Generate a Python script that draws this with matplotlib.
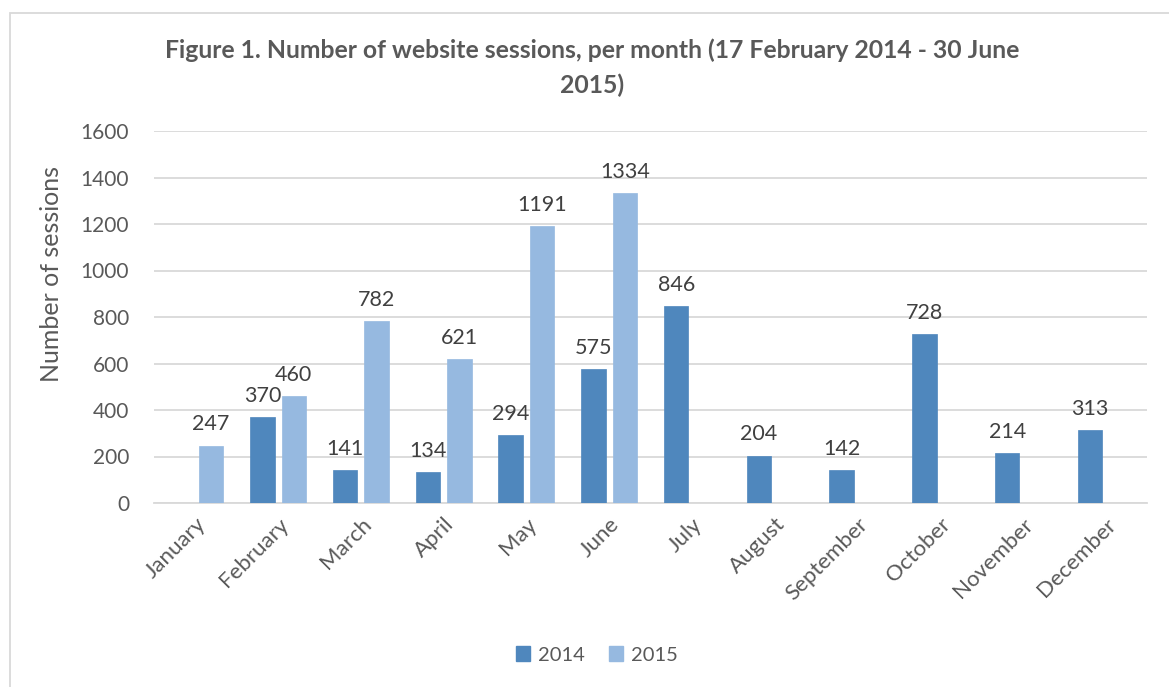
import matplotlib
matplotlib.use("Agg")
import matplotlib.pyplot as plt
import numpy as np
from matplotlib.patches import Rectangle, Patch

months = ["January", "February", "March", "April", "May", "June", "July",
          "August", "September", "October", "November", "December"]
sessions_2014 = [None, 370, 141, 134, 294, 575, 846, 204, 142, 728, 214, 313]
sessions_2015 = [247, 460, 782, 621, 1191, 1334, None, None, None, None, None, None]
series_labels = ["2014", "2015"]
yticks = [0, 200, 400, 600, 800, 1000, 1200, 1400, 1600]

title_line1 = "Figure 1. Number of website sessions, per month (17 February 2014 - 30 June"
title_line2 = "2015)"

c2014 = "#4F87BD"
c2015 = "#96B9E0"
txt = "#595959"
lab = "#404040"
FONT = "Lato"

plt.rcParams['font.family'] = [FONT, 'DejaVu Sans']

W, H = 1169, 687
fig = plt.figure(figsize=(W / 100, H / 100), dpi=100)
fig.patch.set_facecolor("white")

# chart-area border
fig.patches.append(Rectangle((10 / W, -0.01), 1.1, (H - 13) / H + 0.01,
                             transform=fig.transFigure, fill=False,
                             edgecolor="#D9D9D9", linewidth=1.3))

ax = fig.add_axes([154 / W, (H - 503) / H, (1147 - 154) / W, (503 - 131) / H])
x = np.arange(len(months))
bw = 0.296
off = 0.19

def draw(vals, dx, color):
    for xi, v in zip(x, vals):
        if v is None:
            continue
        ax.bar(xi + dx, v, width=bw, color=color, edgecolor=color, linewidth=0.5, zorder=3)
        ax.annotate(str(v), (xi + dx, v), xytext=(0, 8), textcoords="offset points",
                    ha="center", va="bottom", fontsize=15.5, color=lab)

draw(sessions_2014, -off, c2014)
draw(sessions_2015, off, c2015)

ax.set_xlim(-0.5, len(months) - 0.5)
ax.set_ylim(0, 1600)
ax.set_yticks(yticks)
ax.set_yticklabels([str(t) for t in yticks], fontsize=15, color=txt)
ax.yaxis.grid(True, color="#D9D9D9", linewidth=1.3, zorder=0)
ax.set_axisbelow(True)
for s in ["top", "right", "left"]:
    ax.spines[s].set_visible(False)
ax.spines["bottom"].set_color("#D9D9D9")
ax.spines["bottom"].set_linewidth(1.3)
ax.tick_params(axis="both", length=0)
ax.tick_params(axis="y", pad=18)
ax.set_xticks(x)
ax.set_xticklabels(months, rotation=45, ha="right", rotation_mode="anchor",
                   fontsize=16, color=txt)
ax.tick_params(axis="x", pad=8)
ax.set_ylabel("Number of sessions", fontsize=18, color=txt, va="center")
ax.yaxis.set_label_coords((52 - 154) / (1147 - 154), (503 - 274) / (503 - 131))

fig.text(592 / W, 1 - 50 / H, title_line1, ha="center", va="center",
         fontsize=17.8, fontweight="bold", color=txt)
fig.text(592 / W, 1 - 85 / H, title_line2, ha="center", va="center",
         fontsize=17.8, fontweight="bold", color=txt)

handles = [Patch(facecolor=c2014, edgecolor=c2014), Patch(facecolor=c2015, edgecolor=c2015)]
fig.legend(handles, series_labels, loc="center", bbox_to_anchor=(597 / W, 1 - 655 / H),
           ncol=2, frameon=False, fontsize=14.5, labelcolor=txt,
           handlelength=0.7, handleheight=0.7, handletextpad=0.4, columnspacing=1.2)

fig.savefig("out.png", dpi=100, facecolor="white")
